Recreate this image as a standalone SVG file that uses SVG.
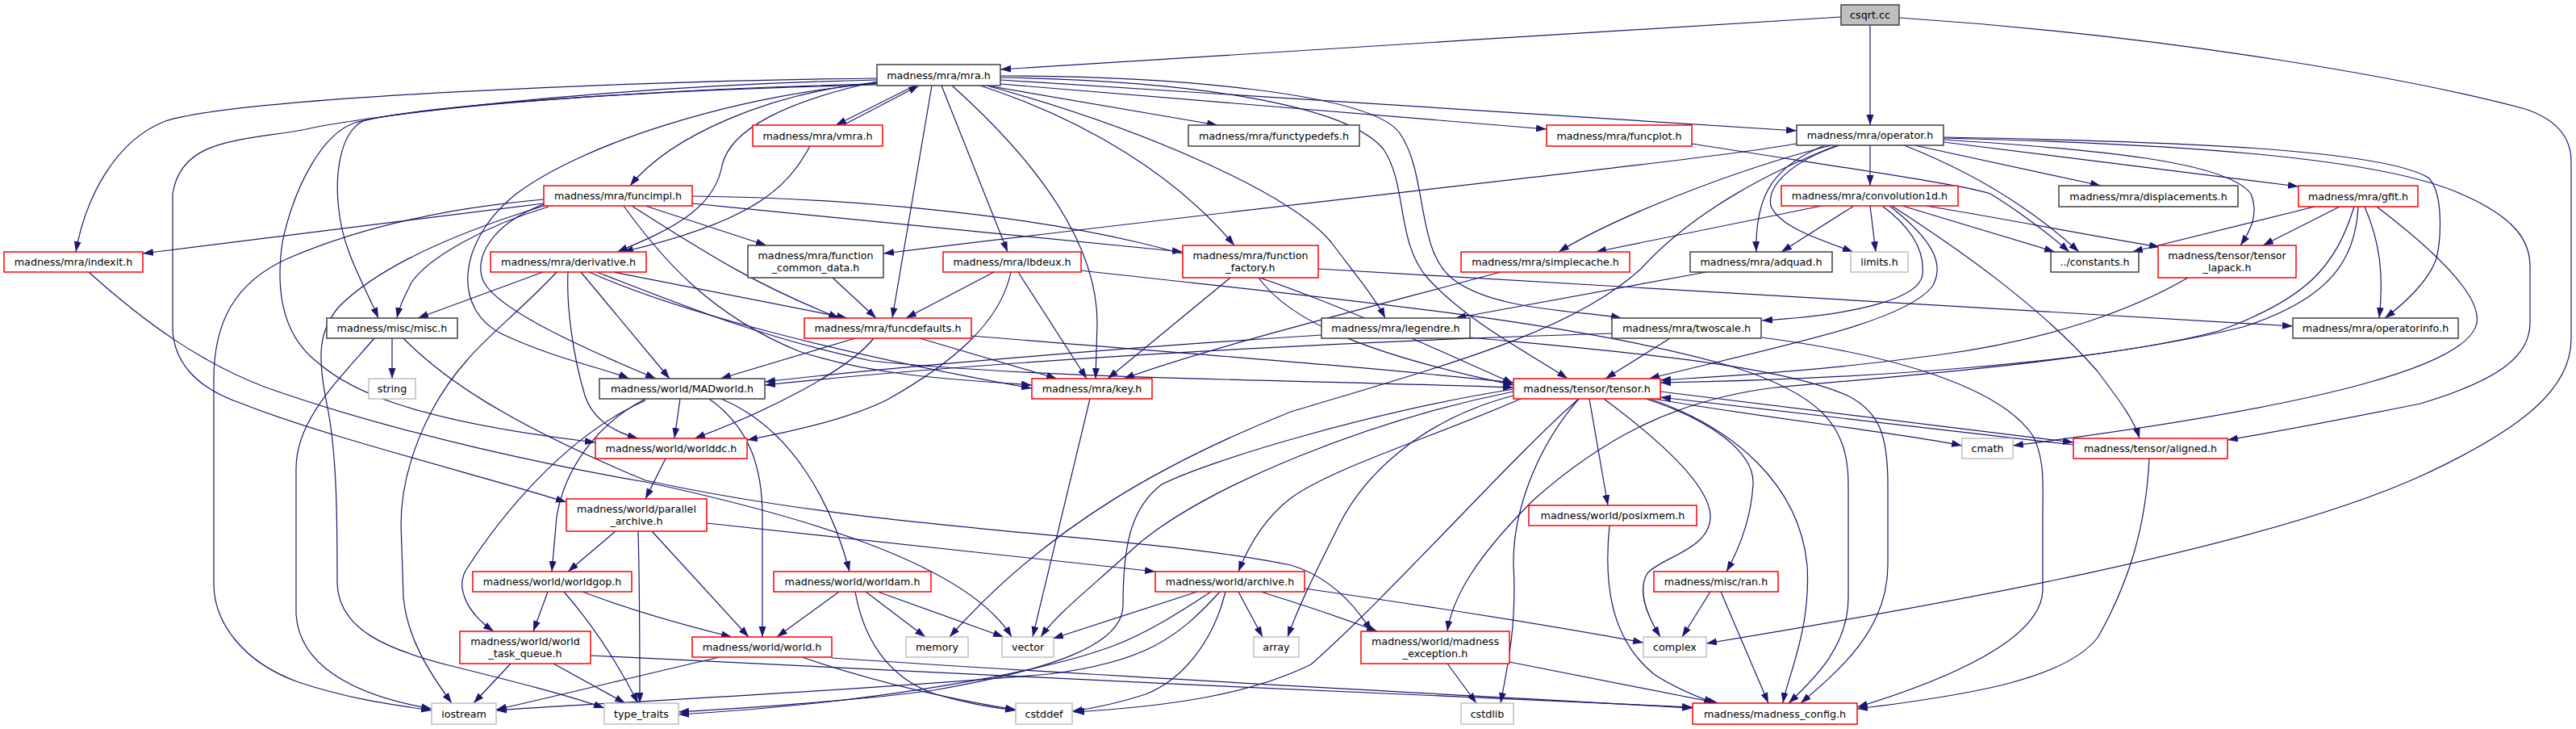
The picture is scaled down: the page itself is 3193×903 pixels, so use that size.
<svg xmlns="http://www.w3.org/2000/svg" width="3193" height="903" viewBox="0 0 3193 903">
<style>
rect{stroke-width:1.5}
.b{fill:#fff;stroke:#404040}
.r{fill:#fff;stroke:#ff0000}
.g{fill:#fff;stroke:#bfbfbf}
.root{fill:#bfbfbf;stroke:#404040}
text{font-family:"DejaVu Sans","Liberation Sans",sans-serif;font-size:12.7px;text-anchor:middle;fill:#000}
#edges path{fill:none;stroke:#191970;stroke-width:1.2;marker-end:url(#a)}
</style>
<defs>
<marker id="a" markerWidth="14" markerHeight="10" refX="13" refY="4.5" orient="auto" markerUnits="userSpaceOnUse"><path d="M0,0 L13,4.5 L0,9 z" fill="#191970"/></marker>
</defs>
<rect width="3193" height="903" fill="#fff"/>
<g id="edges">
<path d="M2282,21 C1950,42 1550,66 1240,86"/>
<path d="M2318,31 L2318,155"/>
<path d="M2354,22 C2700,45 3000,100 3130,135 C3175,150 3187,175 3187,200 L3187,420 C3187,480 3130,530 3000,590 C2800,680 2400,750 2115,797"/>
<path d="M1134,106 L1036,155"/>
<path d="M1045,155 L1139,106"/>
<path d="M1223,106 L1509,155"/>
<path d="M1240,104 L1917,160"/>
<path d="M1240,99 L2227,162"/>
<path d="M1240,94 C1450,94 1700,115 1735,165 C1770,215 1755,310 1800,345 C1850,385 1960,385 2010,394"/>
<path d="M1240,96 C1480,100 1670,130 1715,185 C1745,230 1730,300 1770,345 C1820,400 1900,440 1943,469"/>
<path d="M1223,106 C1420,160 1600,240 1650,300 C1680,340 1705,370 1717,394"/>
<path d="M1215,106 C1350,150 1460,220 1530,304"/>
<path d="M1180,106 C1285,200 1360,300 1360,400 L1358,469"/>
<path d="M1167,106 L1249,312"/>
<path d="M1155,106 L1106,394"/>
<path d="M1087,101 C975,125 905,160 895,205 C885,260 830,285 765,312"/>
<path d="M1004,181 C975,235 930,275 772,312"/>
<path d="M1087,102 C950,115 830,170 781,230"/>
<path d="M1087,103 C900,120 720,180 640,240 C565,300 560,385 625,415 C690,445 745,455 780,469"/>
<path d="M1087,97 C800,100 300,120 205,150 C140,175 105,250 94,312"/>
<path d="M1087,99 C700,108 420,150 380,160 C300,175 225,170 214,240 L214,405 C214,445 240,480 300,500 C400,540 600,590 702,622"/>
<path d="M1087,104 C800,110 500,135 450,150 C420,165 415,220 420,260 C425,310 450,350 469,394"/>
<path d="M1087,105 C800,112 520,130 440,152 C400,165 365,230 350,300 C340,370 355,420 395,450 C430,480 500,520 738,548"/>
<path d="M674,255 C560,290 470,330 420,380 C395,410 393,440 405,500 C418,560 418,650 418,723 C420,780 480,805 560,825 C640,845 700,860 749,877"/>
<path d="M674,252 L177,314"/>
<path d="M674,247 C560,257 450,280 357,320 C290,350 265,400 265,470 L265,723 C265,770 300,820 370,845 C430,865 480,872 535,880"/>
<path d="M680,256 C600,280 530,320 510,350 C500,370 495,380 492,394"/>
<path d="M674,253 C610,277 585,320 600,350 C620,385 720,430 813,469"/>
<path d="M800,255 L950,304"/>
<path d="M783,255 C870,310 930,350 1040,394"/>
<path d="M773,255 C820,320 880,390 990,435 C1080,465 1180,470 1279,477"/>
<path d="M858,252 L1466,312"/>
<path d="M858,243 C1050,245 1260,265 1410,300 C1600,345 1750,420 1876,475"/>
<path d="M673,337 L518,394"/>
<path d="M690,337 C650,380 600,420 580,445 C530,500 497,580 497,650 L500,740 C505,790 530,830 560,871"/>
<path d="M704,337 C702,380 710,440 725,490 C735,520 760,535 791,543"/>
<path d="M720,337 L830,469"/>
<path d="M760,337 L1050,394"/>
<path d="M730,337 C850,390 1050,440 1279,481"/>
<path d="M740,337 C850,380 950,420 1080,447 C1300,470 1600,470 1876,480"/>
<path d="M1032,344 L1086,394"/>
<path d="M2227,178 C2100,200 1700,240 1095,314"/>
<path d="M1232,337 L1123,394"/>
<path d="M1253,337 C1240,400 1180,450 1100,495 C1050,520 980,535 926,545"/>
<path d="M1262,337 L1347,469"/>
<path d="M1340,335 C1600,365 1950,395 2150,455 C2260,490 2291,530 2291,600 L2291,740 C2291,800 2250,840 2217,871"/>
<path d="M1060,419 L893,469"/>
<path d="M1083,419 C1050,460 950,510 861,543"/>
<path d="M1140,419 L1310,469"/>
<path d="M1204,416 C1500,440 1700,455 1876,474"/>
<path d="M1525,344 L1373,469"/>
<path d="M1560,344 C1600,400 1700,440 1876,477"/>
<path d="M1634,333 L2842,404"/>
<path d="M1860,337 C1700,380 1500,430 1393,469"/>
<path d="M1638,415 C1400,430 1100,455 948,473"/>
<path d="M1998,413 C1600,425 1200,450 948,477"/>
<path d="M2070,419 L1990,469"/>
<path d="M2184,418 C2350,440 2480,480 2520,540 C2535,570 2532,600 2532,640 L2532,730 C2532,790 2420,840 2302,876"/>
<path d="M1822,418 C2000,435 2200,450 2290,490 C2330,510 2340,540 2340,600 L2340,700 C2340,780 2280,830 2232,871"/>
<path d="M2115,337 L1804,394"/>
<path d="M2298,255 L2208,312"/>
<path d="M2258,255 L1978,312"/>
<path d="M2318,255 L2325,312"/>
<path d="M2358,255 L2547,312"/>
<path d="M2387,255 C2480,270 2580,290 2677,306"/>
<path d="M2333,255 C2380,290 2385,320 2383,340 C2380,370 2300,390 2184,397"/>
<path d="M2342,255 C2400,300 2410,330 2395,355 C2360,400 2200,430 2044,469"/>
<path d="M2345,255 C2430,310 2530,380 2600,460 C2630,500 2645,520 2652,543"/>
<path d="M2318,180 L2318,230"/>
<path d="M2373,180 L2604,230"/>
<path d="M2409,176 L2849,231"/>
<path d="M2270,180 C2150,210 2000,270 1932,312"/>
<path d="M2262,180 C2200,205 2175,240 2177,312"/>
<path d="M2280,180 C2220,200 2190,230 2195,255 C2205,280 2250,295 2297,312"/>
<path d="M2360,180 C2450,215 2520,260 2577,312"/>
<path d="M2409,173 C2600,185 2760,200 2790,240 C2800,265 2790,285 2777,304"/>
<path d="M2409,170 C2700,175 2950,185 3010,220 C3030,240 3025,300 3020,320 C3010,350 2975,380 2956,394"/>
<path d="M2409,171 C2700,178 2950,195 3050,240 C3120,270 3136,300 3136,330 L3136,400 C3136,440 3100,470 3000,500 C2900,520 2820,535 2761,545"/>
<path d="M2277,180 C2200,210 2100,260 2034,333 C1950,410 1800,450 1600,510 C1450,570 1300,650 1177,789"/>
<path d="M2097,178 C2300,210 2440,230 2467,240 C2500,260 2540,290 2565,312"/>
<path d="M2869,256 L2643,312"/>
<path d="M2900,256 L2805,304"/>
<path d="M2931,256 C2950,300 2955,340 2949,394"/>
<path d="M2918,256 C2895,330 2860,370 2750,410 C2600,450 2300,470 2058,474"/>
<path d="M2923,256 C2920,320 2890,370 2780,405 C2600,450 2300,470 2200,480 C2080,495 1990,540 1900,620 C1830,690 1800,740 1794,782"/>
<path d="M2946,256 C3030,320 3075,370 3070,400 C3060,450 2900,500 2495,552"/>
<path d="M2712,344 C2650,380 2550,420 2400,440 C2250,460 2150,465 2058,471"/>
<path d="M1876,490 C1760,520 1690,590 1660,650 C1630,710 1610,750 1596,789"/>
<path d="M1876,485 C1700,520 1500,600 1412,673 C1350,730 1310,760 1290,789"/>
<path d="M1876,482 C1700,510 1500,570 1440,600 C1400,630 1392,680 1392,750 C1392,800 1300,830 1157,855 C1050,870 900,878 841,882"/>
<path d="M1885,494 C1780,540 1650,580 1600,617 C1570,640 1550,670 1535,708"/>
<path d="M1957,494 C1880,560 1720,740 1625,823 C1550,860 1450,875 1331,882"/>
<path d="M1957,494 C1900,560 1875,640 1876,700 C1880,770 1870,820 1860,871"/>
<path d="M1970,494 L1993,626"/>
<path d="M1988,494 C2050,540 2120,600 2120,640 C2120,680 2060,690 2042,710 C2030,730 2040,760 2058,789"/>
<path d="M2040,494 C2120,520 2175,560 2173,600 C2170,650 2150,690 2140,708"/>
<path d="M2045,494 C2150,530 2230,600 2240,700 C2245,780 2215,840 2210,871"/>
<path d="M2058,485 L2570,548"/>
<path d="M2570,551 L2058,492"/>
<path d="M2050,494 C2200,520 2350,535 2432,552"/>
<path d="M2664,568 C2660,650 2640,720 2600,790 C2560,840 2450,860 2302,878"/>
<path d="M1995,651 C1988,720 1995,790 2050,835 C2080,855 2110,865 2125,871"/>
<path d="M2120,733 L2085,789"/>
<path d="M2133,733 L2192,871"/>
<path d="M1794,822 L1830,871"/>
<path d="M1871,820 L2130,871"/>
<path d="M1484,733 L1305,791"/>
<path d="M1501,733 C1460,760 1420,785 1380,800 C1300,830 1100,870 841,885"/>
<path d="M1519,733 C1505,790 1470,840 1420,860 C1380,873 1350,878 1329,881"/>
<path d="M1512,733 C1460,790 1420,820 1300,835 C1000,860 750,870 615,880"/>
<path d="M1535,733 L1565,789"/>
<path d="M1563,733 C1600,745 1650,760 1707,782"/>
<path d="M1617,729 C1800,755 1950,780 2037,796"/>
<path d="M1351,494 L1280,789"/>
<path d="M892,814 C800,835 700,860 615,879"/>
<path d="M994,814 C1100,850 1200,870 1259,879"/>
<path d="M1031,815 C1400,840 1800,860 2098,877"/>
<path d="M1040,733 L963,789"/>
<path d="M1073,733 L1147,789"/>
<path d="M1088,733 L1244,789"/>
<path d="M1060,733 C1070,790 1100,840 1160,860 C1200,872 1230,876 1259,880"/>
<path d="M633,822 L587,871"/>
<path d="M686,822 L775,871"/>
<path d="M732,812 C1100,830 1700,860 2098,876"/>
<path d="M679,733 L661,782"/>
<path d="M699,733 C740,780 770,830 791,871"/>
<path d="M722,733 C780,755 850,775 907,789"/>
<path d="M763,658 L704,708"/>
<path d="M791,658 C793,730 793,800 793,871"/>
<path d="M808,658 L928,789"/>
<path d="M876,648 L1432,708"/>
<path d="M825,568 L800,618"/>
<path d="M843,494 L836,543"/>
<path d="M879,494 C930,530 945,580 945,640 L945,789"/>
<path d="M894,494 C980,530 1030,620 1053,708"/>
<path d="M800,494 C740,525 700,580 690,640 L684,708"/>
<path d="M800,496 C700,540 620,640 577,707 C565,730 580,760 612,782"/>
<path d="M486,419 L486,469"/>
<path d="M464,419 C420,470 367,520 367,580 L367,760 C370,820 430,860 535,878"/>
<path d="M500,419 C545,465 620,520 800,595 C1100,660 1400,660 1600,700 C1650,715 1680,750 1700,782"/>
<path d="M110,337 C180,400 250,450 330,480 C500,540 700,580 800,597 C1000,640 1200,700 1254,789"/>
</g>
<g id="n_csqrt"><rect class="root" x="2282" y="6" width="72" height="25"/><text x="2318" y="23">csqrt.cc</text></g>
<g id="n_mra"><rect class="b" x="1087" y="80" width="153" height="26"/><text x="1163.5" y="97.5">madness/mra/mra.h</text></g>
<g id="n_vmra"><rect class="r" x="933" y="155" width="161" height="26"/><text x="1013.5" y="172.5">madness/mra/vmra.h</text></g>
<g id="n_functypedefs"><rect class="b" x="1473" y="155" width="212" height="26"/><text x="1579" y="172.5">madness/mra/functypedefs.h</text></g>
<g id="n_funcplot"><rect class="r" x="1917" y="155" width="180" height="26"/><text x="2007" y="172.5">madness/mra/funcplot.h</text></g>
<g id="n_operator"><rect class="b" x="2227" y="155" width="182" height="25"/><text x="2318" y="172">madness/mra/operator.h</text></g>
<g id="n_funcimpl"><rect class="r" x="674" y="230" width="184" height="25"/><text x="766" y="247">madness/mra/funcimpl.h</text></g>
<g id="n_convolution1d"><rect class="r" x="2208" y="230" width="219" height="25"/><text x="2317.5" y="247">madness/mra/convolution1d.h</text></g>
<g id="n_displacements"><rect class="b" x="2552" y="230" width="222" height="26"/><text x="2663" y="247.5">madness/mra/displacements.h</text></g>
<g id="n_gfit"><rect class="r" x="2849" y="230" width="148" height="26"/><text x="2923" y="247.5">madness/mra/gfit.h</text></g>
<g id="n_indexit"><rect class="r" x="5" y="312" width="172" height="25"/><text x="91" y="329">madness/mra/indexit.h</text></g>
<g id="n_derivative"><rect class="r" x="608" y="312" width="193" height="25"/><text x="704.5" y="329">madness/mra/derivative.h</text></g>
<g id="n_function_common_data"><rect class="b" x="927" y="304" width="168" height="40"/><text x="1011" y="321">madness/mra/function</text><text x="1011" y="335.5">_common_data.h</text></g>
<g id="n_lbdeux"><rect class="r" x="1169" y="312" width="171" height="25"/><text x="1254.5" y="329">madness/mra/lbdeux.h</text></g>
<g id="n_function_factory"><rect class="r" x="1466" y="304" width="168" height="40"/><text x="1550" y="321">madness/mra/function</text><text x="1550" y="335.5">_factory.h</text></g>
<g id="n_simplecache"><rect class="r" x="1811" y="312" width="209" height="25"/><text x="1915.5" y="329">madness/mra/simplecache.h</text></g>
<g id="n_adquad"><rect class="b" x="2095" y="312" width="176" height="25"/><text x="2183" y="329">madness/mra/adquad.h</text></g>
<g id="n_limits"><rect class="g" x="2294" y="312" width="71" height="25"/><text x="2329.5" y="329">limits.h</text></g>
<g id="n_constants"><rect class="b" x="2542" y="312" width="109" height="25"/><text x="2596.5" y="329">../constants.h</text></g>
<g id="n_tensor_lapack"><rect class="r" x="2675" y="304" width="171" height="40"/><text x="2760.5" y="321">madness/tensor/tensor</text><text x="2760.5" y="335.5">_lapack.h</text></g>
<g id="n_misc"><rect class="b" x="405" y="394" width="162" height="25"/><text x="486" y="411">madness/misc/misc.h</text></g>
<g id="n_funcdefaults"><rect class="r" x="997" y="394" width="207" height="25"/><text x="1100.5" y="411">madness/mra/funcdefaults.h</text></g>
<g id="n_legendre"><rect class="b" x="1638" y="394" width="184" height="25"/><text x="1730" y="411">madness/mra/legendre.h</text></g>
<g id="n_twoscale"><rect class="b" x="1998" y="394" width="185" height="25"/><text x="2090.5" y="411">madness/mra/twoscale.h</text></g>
<g id="n_operatorinfo"><rect class="b" x="2842" y="394" width="205" height="25"/><text x="2944.5" y="411">madness/mra/operatorinfo.h</text></g>
<g id="n_string"><rect class="g" x="457" y="469" width="58" height="25"/><text x="486" y="486">string</text></g>
<g id="n_MADworld"><rect class="b" x="743" y="469" width="205" height="25"/><text x="845.5" y="486">madness/world/MADworld.h</text></g>
<g id="n_key"><rect class="r" x="1279" y="469" width="149" height="25"/><text x="1353.5" y="486">madness/mra/key.h</text></g>
<g id="n_tensor"><rect class="r" x="1876" y="469" width="182" height="25"/><text x="1967" y="486">madness/tensor/tensor.h</text></g>
<g id="n_worlddc"><rect class="r" x="738" y="543" width="188" height="25"/><text x="832" y="560">madness/world/worlddc.h</text></g>
<g id="n_cmath"><rect class="g" x="2432" y="543" width="63" height="25"/><text x="2463.5" y="560">cmath</text></g>
<g id="n_aligned"><rect class="r" x="2570" y="543" width="191" height="25"/><text x="2665.5" y="560">madness/tensor/aligned.h</text></g>
<g id="n_parallel_archive"><rect class="r" x="702" y="618" width="174" height="40"/><text x="789" y="635">madness/world/parallel</text><text x="789" y="649.5">_archive.h</text></g>
<g id="n_posixmem"><rect class="r" x="1895" y="626" width="208" height="25"/><text x="1999" y="643">madness/world/posixmem.h</text></g>
<g id="n_worldgop"><rect class="r" x="586" y="708" width="197" height="25"/><text x="684.5" y="725">madness/world/worldgop.h</text></g>
<g id="n_worldam"><rect class="r" x="959" y="708" width="195" height="25"/><text x="1056.5" y="725">madness/world/worldam.h</text></g>
<g id="n_archive"><rect class="r" x="1432" y="708" width="185" height="25"/><text x="1524.5" y="725">madness/world/archive.h</text></g>
<g id="n_ran"><rect class="r" x="2050" y="708" width="154" height="25"/><text x="2127" y="725">madness/misc/ran.h</text></g>
<g id="n_world_task_queue"><rect class="r" x="570" y="782" width="162" height="40"/><text x="651" y="799">madness/world/world</text><text x="651" y="813.5">_task_queue.h</text></g>
<g id="n_world"><rect class="r" x="858" y="789" width="173" height="25"/><text x="944.5" y="806">madness/world/world.h</text></g>
<g id="n_memory"><rect class="g" x="1123" y="789" width="77" height="25"/><text x="1161.5" y="806">memory</text></g>
<g id="n_vector"><rect class="g" x="1242" y="789" width="64" height="25"/><text x="1274" y="806">vector</text></g>
<g id="n_array"><rect class="g" x="1554" y="789" width="56" height="25"/><text x="1582" y="806">array</text></g>
<g id="n_madness_exception"><rect class="r" x="1687" y="782" width="184" height="40"/><text x="1779" y="799">madness/world/madness</text><text x="1779" y="813.5">_exception.h</text></g>
<g id="n_complex"><rect class="g" x="2037" y="789" width="78" height="25"/><text x="2076" y="806">complex</text></g>
<g id="n_iostream"><rect class="g" x="535" y="871" width="80" height="26"/><text x="575" y="888.5">iostream</text></g>
<g id="n_type_traits"><rect class="g" x="749" y="871" width="92" height="26"/><text x="795" y="888.5">type_traits</text></g>
<g id="n_cstddef"><rect class="g" x="1259" y="871" width="70" height="26"/><text x="1294" y="888.5">cstddef</text></g>
<g id="n_cstdlib"><rect class="g" x="1811" y="871" width="65" height="26"/><text x="1843.5" y="888.5">cstdlib</text></g>
<g id="n_madness_config"><rect class="r" x="2098" y="871" width="204" height="26"/><text x="2200" y="888.5">madness/madness_config.h</text></g>
</svg>
